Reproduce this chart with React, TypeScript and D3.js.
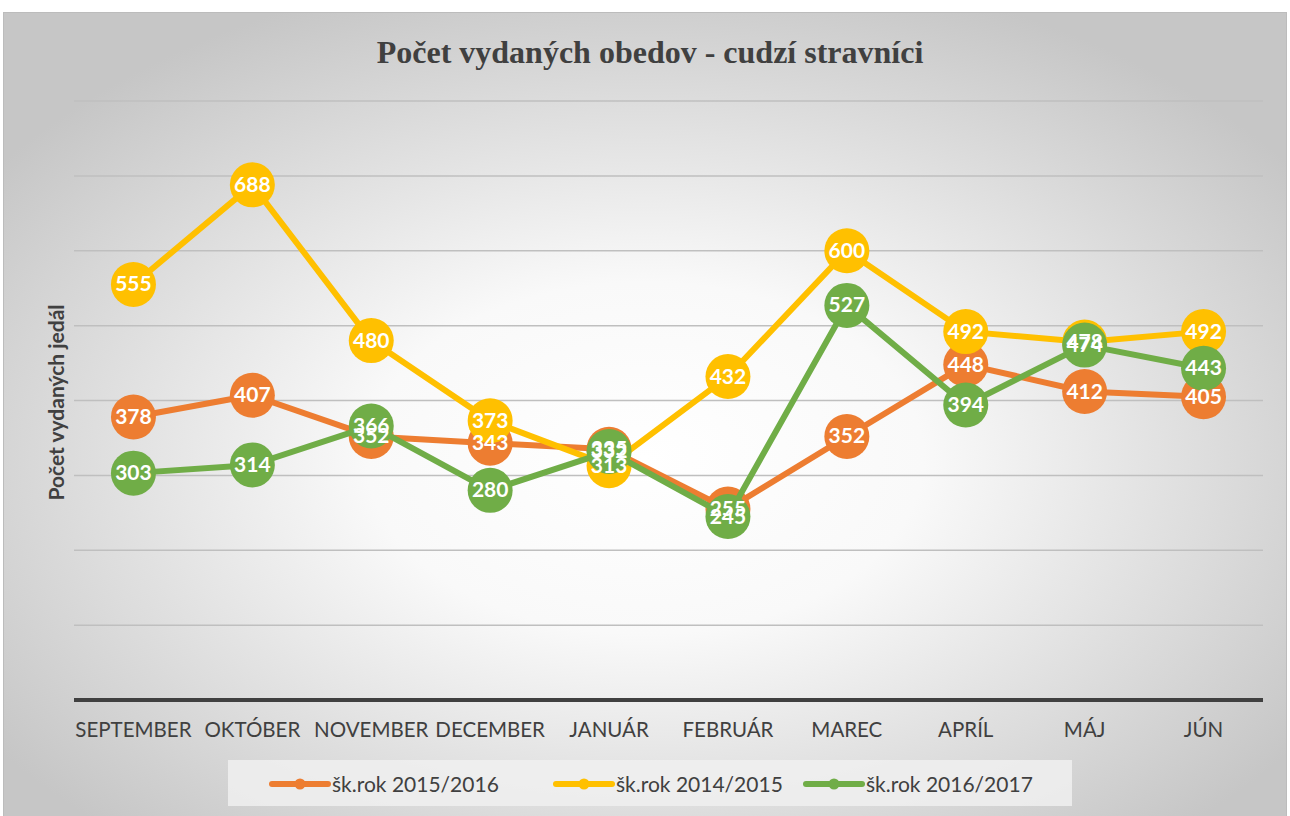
import React from "react";
import * as d3 from "d3";

const categories = ["SEPTEMBER", "OKTÓBER", "NOVEMBER", "DECEMBER", "JANUÁR", "FEBRUÁR", "MAREC", "APRÍL", "MÁJ", "JÚN"];
const s2015 = [378, 407, 352, 343, 335, 255, 352, 448, 412, 405];
const s2014 = [555, 688, 480, 373, 313, 432, 600, 492, 478, 492];
const s2016 = [303, 314, 366, 280, 332, 245, 527, 394, 474, 443];
const seriesNames = ["šk.rok 2015/2016", "šk.rok 2014/2015", "šk.rok 2016/2017"];
const seriesColors = ["#ED7D31", "#FFC000", "#70AD47"];
const yTicks = [0, 100, 200, 300, 400, 500, 600, 700, 800];

const W = 1290, H = 816;
const plot = { left: 74, right: 1263, top: 101, bottom: 700 };

export default function App() {
  const x = d3.scalePoint<string>().domain(categories).range([plot.left, plot.right]).padding(0.5);
  const y = d3.scaleLinear().domain([0, 800]).range([plot.bottom, plot.top]);
  const series = [s2015, s2014, s2016];
  const line = d3.line<number>().x((_, i) => x(categories[i]) as number).y((d) => y(d));
  const font = "Lato, 'Open Sans', sans-serif";
  const legendX = [272, 556, 806];

  return (
    <svg width={W} height={H} style={{ position: "absolute", left: 0, top: 0 }}>
      <defs>
        <radialGradient id="bg" cx="0.5" cy="0.55" r="0.62">
          <stop offset="0" stopColor="#ffffff" />
          <stop offset="0.35" stopColor="#f9f9f9" />
          <stop offset="1" stopColor="#c6c6c6" />
        </radialGradient>
      </defs>
      <rect x={0} y={0} width={W} height={H} fill="#ffffff" />
      <rect x={3.5} y={12.5} width={1283} height={810} fill="url(#bg)" stroke="#bcbcbc" strokeWidth={1} />
      <text x={650} y={63} textAnchor="middle" fontFamily="'Liberation Serif', 'Times New Roman', serif" fontWeight="bold" fontSize={32} fill="#404040">
        Počet vydaných obedov - cudzí stravníci
      </text>
      {yTicks.filter((t) => t > 0).map((t) => (
        <line key={t} x1={plot.left} x2={plot.right} y1={y(t)} y2={y(t)} stroke="#bfbfbf" strokeWidth={1.5} />
      ))}
      <line x1={plot.left} x2={plot.right} y1={y(0)} y2={y(0)} stroke="#404040" strokeWidth={4} />
      <text transform={`translate(64,${(plot.top + plot.bottom) / 2 + 2}) rotate(-90)`} textAnchor="middle" fontFamily={font} fontWeight="bold" fontSize={21} fill="#404040">
        Počet vydaných jedál
      </text>
      {categories.map((c) => (
        <text key={c} x={x(c)} y={737} textAnchor="middle" fontFamily={font} fontSize={20.5} fill="#404040">
          {c}
        </text>
      ))}
      {series.map((s, si) => (
        <g key={si}>
          <path d={line(s) || ""} fill="none" stroke={seriesColors[si]} strokeWidth={6} strokeLinejoin="round" strokeLinecap="round" />
          {s.map((v, i) => (
            <circle key={i} cx={x(categories[i])} cy={y(v)} r={22.5} fill={seriesColors[si]} />
          ))}
        </g>
      ))}
      {series.map((s, si) => (
        <g key={"l" + si}>
          {s.map((v, i) => (
            <text key={i} x={x(categories[i])} y={y(v) + 7} textAnchor="middle" fontFamily={font} fontWeight="bold" fontSize={21} fill="#ffffff">
              {v}
            </text>
          ))}
        </g>
      ))}
      <rect x={228} y={760} width={844} height={46} fill="#f0f0f0" opacity={0.85} />
      {seriesNames.map((n, i) => (
        <g key={n}>
          <line x1={legendX[i]} x2={legendX[i] + 56} y1={784} y2={784} stroke={seriesColors[i]} strokeWidth={6} strokeLinecap="round" />
          <circle cx={legendX[i] + 28} cy={784} r={5.5} fill={seriesColors[i]} />
          <text x={legendX[i] + 60} y={791.5} fontFamily={font} fontSize={21} fill="#404040">
            {n}
          </text>
        </g>
      ))}
    </svg>
  );
}
